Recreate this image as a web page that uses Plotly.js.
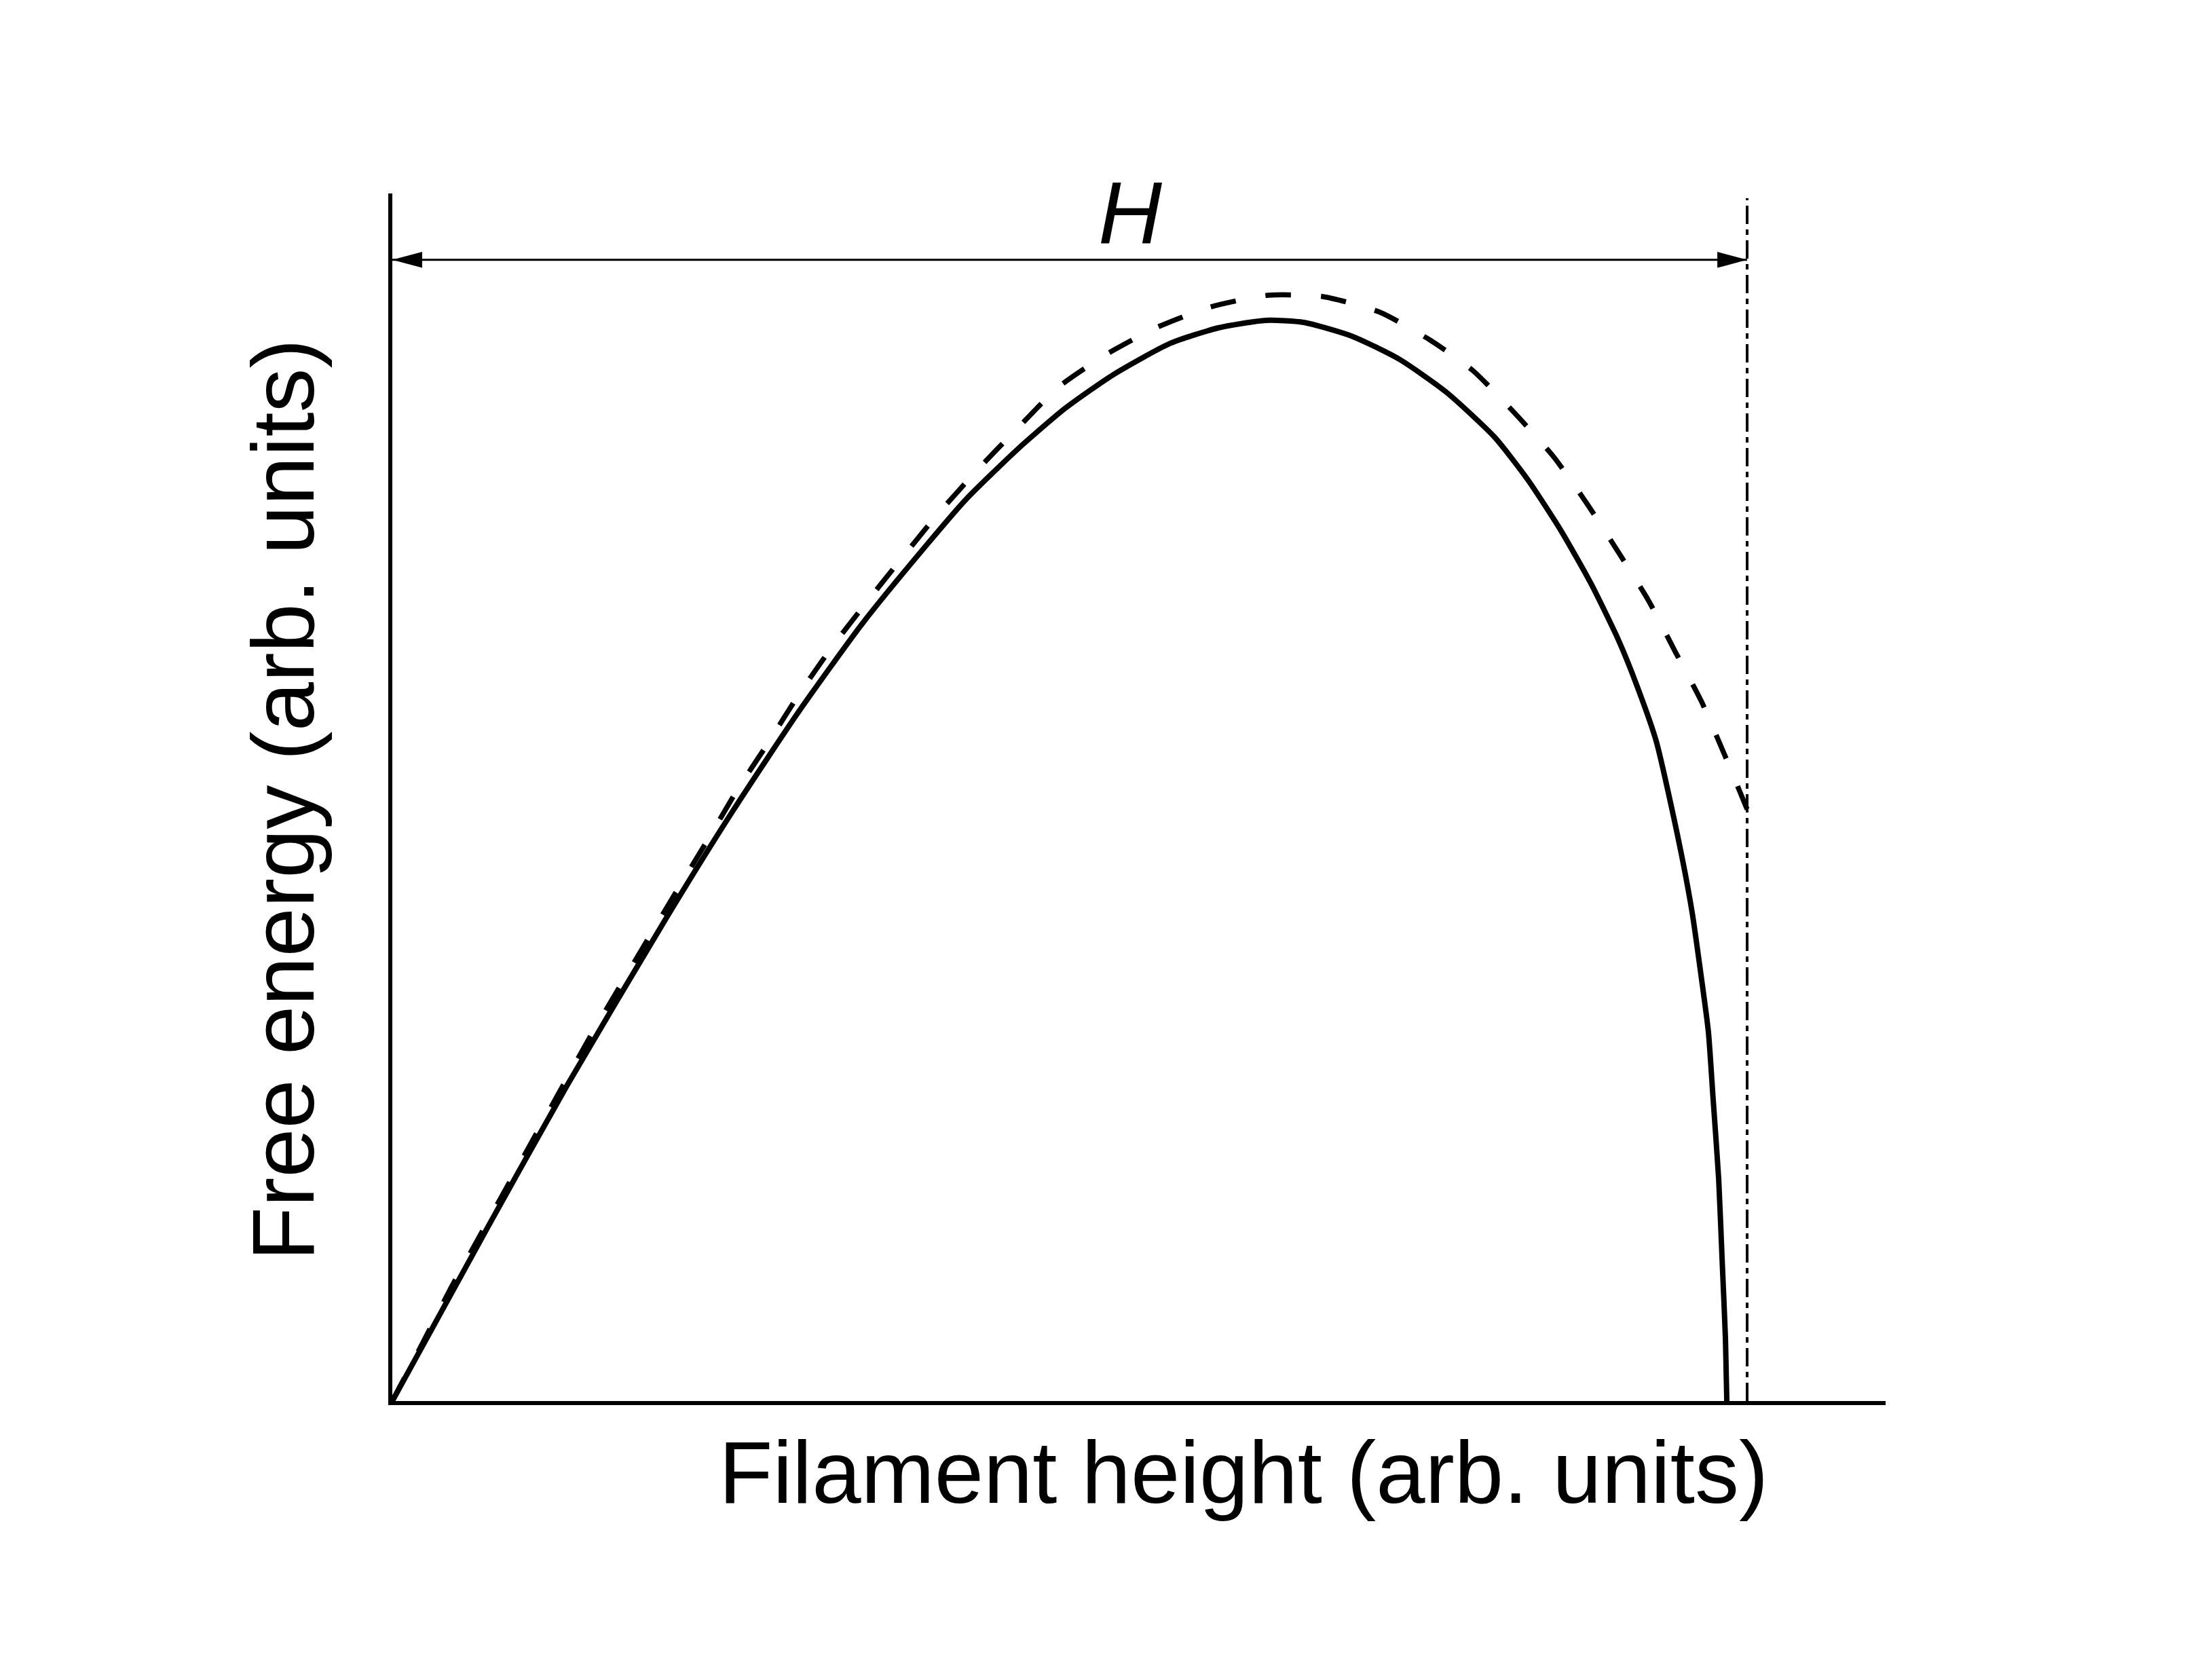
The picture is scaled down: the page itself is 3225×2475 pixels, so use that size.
<!DOCTYPE html>
<html>
<head>
<meta charset="utf-8">
<script src="https://cdn.plot.ly/plotly-3.0.1.min.js"></script>
<style>
  html, body { margin: 0; padding: 0; background: #fff; }
  #graph { width: 3225px; height: 2475px; }
</style>
</head>
<body>
<div id="graph"></div>
<script>
// filament height in units of H, free energy in arb. units
var solidX = [0, 0.0701, 0.1293, 0.2029, 0.2515, 0.3001, 0.3472, 0.3943, 0.4233, 0.4619,
  0.4970, 0.5321, 0.5741, 0.6097, 0.6448, 0.6728, 0.7079, 0.7430, 0.7781, 0.8136,
  0.8382, 0.8627, 0.8848, 0.9048, 0.9188, 0.9329, 0.9494, 0.9594, 0.9664, 0.9714,
  0.9749, 0.9790, 0.9815, 0.9840, 0.9850];
var solidY = [0, 0.1433, 0.2619, 0.4013, 0.4890, 0.5711, 0.6442, 0.7088, 0.7465, 0.7886,
  0.8224, 0.8499, 0.8758, 0.8887, 0.8949, 0.8932, 0.8820, 0.8629, 0.8353, 0.7982,
  0.7628, 0.7206, 0.6768, 0.6307, 0.5919, 0.5464, 0.4643, 0.4047, 0.3491, 0.3058,
  0.2501, 0.1838, 0.1180, 0.0517, 0];

var dashX = [0, 0.0220, 0.0436, 0.0631, 0.0842, 0.1052, 0.1263, 0.1458, 0.1683,
  0.1894, 0.2104, 0.2335, 0.2545, 0.2776, 0.3001, 0.3246, 0.3497, 0.3758, 0.4023,
  0.4329, 0.4619, 0.4925, 0.5271, 0.5636, 0.6042, 0.6463, 0.6869, 0.7290, 0.7660,
  0.7976, 0.8277, 0.8572, 0.8818, 0.9048, 0.9273, 0.9469, 0.9664, 0.9840, 1.0];
var dashY = [0, 0.0472, 0.0944, 0.1338, 0.1765, 0.2192, 0.2619, 0.3013, 0.3440,
  0.3839, 0.4233, 0.4660, 0.5059, 0.5453, 0.5852, 0.6245, 0.6610, 0.6976, 0.7341,
  0.7723, 0.8061, 0.8404, 0.8668, 0.8887, 0.9061, 0.9157, 0.9146, 0.9016, 0.8786,
  0.8533, 0.8190, 0.7819, 0.7431, 0.7032, 0.6627, 0.6206, 0.5790, 0.5334, 0.4900];

var H = 1.0;          // filament height marked on the plot
var arrowY = 0.945;   // level of the H arrow
var markTop = 0.996;  // top of the dash-dot marker at H

var font = '"Liberation Sans", Arial, sans-serif';
var headLen = 0.022, headHalf = 0.0066;

var data = [
  {
    x: solidX, y: solidY, mode: 'lines',
    line: {color: '#000', width: 8, shape: 'spline', smoothing: 0.6},
    hoverinfo: 'skip'
  },
  {
    x: dashX, y: dashY, mode: 'lines',
    line: {color: '#000', width: 7.5, dash: '38px,44px', shape: 'spline', smoothing: 0.6},
    hoverinfo: 'skip'
  },
  {
    x: [H, H], y: [0, markTop], mode: 'lines',
    line: {color: '#000', width: 4, dash: '27px,8px,8px,8px'},
    hoverinfo: 'skip'
  }
];

var layout = {
  width: 3225,
  height: 2475,
  autosize: false,
  showlegend: false,
  paper_bgcolor: '#fff',
  plot_bgcolor: '#fff',
  margin: {l: 578, r: 447, t: 285, b: 411, pad: 0},
  xaxis: {
    range: [0, 1.1022],
    showline: true, linecolor: '#000', linewidth: 6,
    showgrid: false, zeroline: false, showticklabels: false, ticks: ''
  },
  yaxis: {
    range: [0, 1],
    showline: true, linecolor: '#000', linewidth: 6,
    showgrid: false, zeroline: false, showticklabels: false, ticks: ''
  },
  shapes: [
    {type: 'line', xref: 'x', yref: 'y', x0: 0, x1: H, y0: arrowY, y1: arrowY,
     line: {color: '#000', width: 3}},
    {type: 'path', xref: 'x', yref: 'y', fillcolor: '#000', line: {width: 0},
     path: 'M 0,' + arrowY + ' L ' + headLen + ',' + (arrowY + headHalf) +
           ' L ' + headLen + ',' + (arrowY - headHalf) + ' Z'},
    {type: 'path', xref: 'x', yref: 'y', fillcolor: '#000', line: {width: 0},
     path: 'M ' + H + ',' + arrowY + ' L ' + (H - headLen) + ',' + (arrowY + headHalf) +
           ' L ' + (H - headLen) + ',' + (arrowY - headHalf) + ' Z'}
  ],
  annotations: [
    {text: '<i>H</i>', xref: 'x', yref: 'y', x: 0.545, y: 0.984,
     showarrow: false, xanchor: 'center', yanchor: 'middle',
     font: {family: font, size: 130, color: '#000'}},
    {text: 'Filament height (arb. units)', xref: 'paper', yref: 'paper',
     x: 0.570, y: -0.059, showarrow: false, xanchor: 'center', yanchor: 'middle',
     font: {family: font, size: 130, color: '#000'}},
    {text: 'Free energy (arb. units)', xref: 'paper', yref: 'paper',
     x: -0.073, y: 0.498, showarrow: false, textangle: -90,
     xanchor: 'center', yanchor: 'middle',
     font: {family: font, size: 130, color: '#000'}}
  ]
};

Plotly.newPlot('graph', data, layout, {staticPlot: true});
</script>
</body>
</html>
